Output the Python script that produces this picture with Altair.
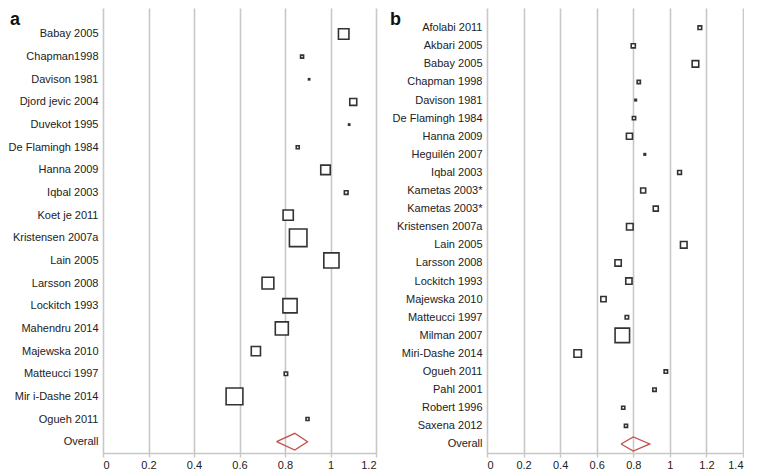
import json
import altair as alt
import pandas as pd

# ---------------- panel a ----------------
studies_a = ["Babay 2005", "Chapman1998", "Davison 1981", "Djord jevic 2004", "Duvekot 1995",
             "De Flamingh 1984", "Hanna 2009", "Iqbal 2003", "Koet je 2011", "Kristensen 2007a",
             "Lain 2005", "Larsson 2008", "Lockitch 1993", "Mahendru 2014", "Majewska 2010",
             "Matteucci 1997", "Mir i-Dashe 2014", "Ogueh 2011"]
est_a = [1.058, 0.875, 0.906, 1.100, 1.082, 0.856, 0.978, 1.069, 0.814, 0.858,
         1.004, 0.725, 0.822, 0.786, 0.672, 0.804, 0.578, 0.899]
weight_a = [6.1, 0.5, 0.08, 2.7, 0.08, 0.5, 5.0, 0.75, 5.8, 17.0,
            12.8, 7.7, 11.2, 9.4, 4.7, 0.65, 15.6, 0.5]
overall_a = [0.763, 0.843, 0.899]   # lower, estimate, upper

# ---------------- panel b ----------------
studies_b = ["Afolabi 2011", "Akbari 2005", "Babay 2005", "Chapman 1998", "Davison 1981",
             "De Flamingh 1984", "Hanna 2009", "Heguilén 2007", "Iqbal 2003", "Kametas 2003*",
             "Kametas 2003*", "Kristensen 2007a", "Lain 2005", "Larsson 2008", "Lockitch 1993",
             "Majewska 2010", "Matteucci 1997", "Milman 2007", "Miri-Dashe 2014", "Ogueh 2011",
             "Pahl 2001", "Robert 1996", "Saxena 2012"]
est_b = [1.164, 0.800, 1.140, 0.830, 0.813, 0.804, 0.779, 0.863, 1.053, 0.854,
         0.923, 0.781, 1.076, 0.717, 0.776, 0.637, 0.765, 0.740, 0.496, 0.978,
         0.916, 0.745, 0.760]
weight_b = [2.0, 2.6, 6.6, 1.6, 0.35, 1.6, 5.6, 0.35, 2.2, 3.8,
            3.8, 6.6, 6.6, 6.0, 6.0, 4.3, 1.8, 32.0, 8.5, 1.8,
            1.8, 1.5, 1.5]
overall_b = [0.733, 0.800, 0.890]

ticks_a = [0, 0.2, 0.4, 0.6, 0.8, 1, 1.2]
ticks_b = [0, 0.2, 0.4, 0.6, 0.8, 1, 1.2, 1.4]

FONT = "Liberation Sans"
GRID = "#c8c8c8"


def panel(labels, est, weight, overall, ticks, area_max, w, h, y_top, dh, letter, letter_dx):
    n = len(labels)
    df = pd.DataFrame({"idx": list(range(n)), "est": est, "weight": weight})
    lo, mid, hi = overall
    dd = pd.DataFrame({"x": [lo, mid, hi, mid, lo],
                       "y": [n, n - dh, n, n + dh, n],
                       "o": [0, 1, 2, 3, 4]})
    ylabels = labels + ["Overall"]
    xscale = alt.Scale(domain=[0, ticks[-1]], nice=False, zero=True)
    yscale = alt.Scale(domain=[y_top, n + 0.5], reverse=True, nice=False, zero=False)
    xaxis = alt.Axis(values=ticks, format="~g", title=None, grid=True, gridColor=GRID,
                     gridWidth=1.6, domainColor=GRID, domainWidth=1.6, tickColor=GRID,
                     tickWidth=1.4, tickSize=4, labelFontSize=11, labelFont=FONT,
                     labelColor="#222", labelPadding=2)
    yaxis = alt.Axis(values=list(range(n + 1)),
                     labelExpr=json.dumps(ylabels, ensure_ascii=False) + "[datum.value]",
                     title=None, grid=False, ticks=False, domain=False, labelFontSize=11,
                     labelFont=FONT, labelColor="#222", labelPadding=5, labelLimit=300)
    squares = alt.Chart(df).mark_square(fill="white", stroke="#333", strokeWidth=1.6,
                                        opacity=1).encode(
        x=alt.X("est:Q", scale=xscale, axis=xaxis),
        y=alt.Y("idx:Q", scale=yscale, axis=yaxis),
        size=alt.Size("weight:Q", scale=alt.Scale(domain=[0, 100], range=[0, area_max]),
                      legend=None),
    )
    diamond = alt.Chart(dd).mark_line(color="#c0504d", strokeWidth=1.3).encode(
        x=alt.X("x:Q", scale=xscale, axis=xaxis),
        y=alt.Y("y:Q", scale=yscale, axis=yaxis),
        order=alt.Order("o:Q"),
    )
    lett = alt.Chart(pd.DataFrame({"t": [letter]})).mark_text(
        align="left", baseline="middle", fontSize=18, fontWeight="bold", font=FONT,
        color="#111").encode(text="t:N", x=alt.value(letter_dx), y=alt.value(12))
    return alt.layer(squares, diamond, lett).properties(width=w, height=h)


pa = panel(studies_a, est_a, weight_a, overall_a, ticks_a, 1804, 273, 445, -1.147, 0.37, "a", -93)
pb = panel(studies_b, est_b, weight_b, overall_b, ticks_b, 656, 256, 445, -1.087, 0.39, "b", -97)

chart = alt.hconcat(pa, pb, spacing=13).resolve_scale(
    x="independent", y="independent", size="independent"
).properties(padding=0, background="white").configure_view(stroke=None)

chart.save("out.html", embed_options={"renderer": "svg", "actions": False})
